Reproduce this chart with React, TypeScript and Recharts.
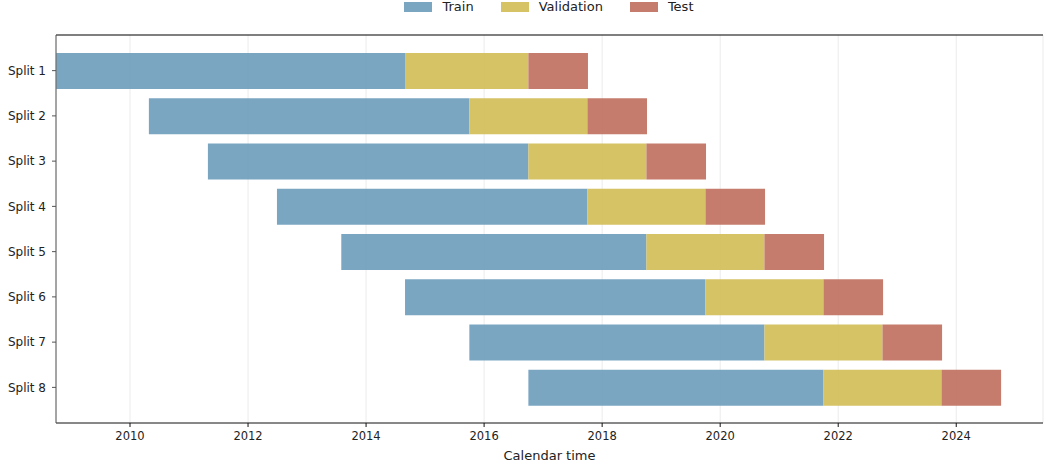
import { BarChart, Bar, XAxis, YAxis, CartesianGrid } from 'recharts';

const splits = ['Split 1', 'Split 2', 'Split 3', 'Split 4', 'Split 5', 'Split 6', 'Split 7', 'Split 8'];
// decimal calendar years
const trainStart = [2008.75, 2010.32, 2011.32, 2012.49, 2013.58, 2014.66, 2015.75, 2016.75];
const trainEnd = [2014.66, 2015.75, 2016.75, 2017.75, 2018.75, 2019.75, 2020.75, 2021.75];
const valEnd = [2016.75, 2017.75, 2018.75, 2019.75, 2020.75, 2021.75, 2022.75, 2023.75];
const testEnd = [2017.76, 2018.76, 2019.76, 2020.76, 2021.76, 2022.76, 2023.76, 2024.76];
const yearTicks = [2010, 2012, 2014, 2016, 2018, 2020, 2022, 2024];

const X_MIN = 2008.746;
const X_MAX = 2025.47;

const COLORS = { train: '#6b9cbb', val: '#d0bc55', test: '#bf6e5d' };
const FONT = 'DejaVu Sans, sans-serif';

// invisible offset bar + three stacked durations
const data = splits.map((name, i) => ({
  name,
  offset: trainStart[i],
  train: trainEnd[i] - trainStart[i],
  val: valEnd[i] - trainEnd[i],
  test: testEnd[i] - valEnd[i],
}));

const legendItems = [
  { label: 'Train', color: COLORS.train },
  { label: 'Validation', color: COLORS.val },
  { label: 'Test', color: COLORS.test },
];

function TopLegend() {
  return (
    <div
      style={{
        position: 'absolute',
        top: 0,
        left: 0,
        width: 1044,
        height: 13,
        display: 'flex',
        justifyContent: 'center',
        gap: 27,
        fontFamily: FONT,
        fontSize: 13,
        lineHeight: '13px',
        color: '#222',
        paddingLeft: 54,
        boxSizing: 'border-box',
      }}
    >
      {legendItems.map((it) => (
        <div key={it.label} style={{ display: 'flex', alignItems: 'center' }}>
          <span
            style={{
              display: 'inline-block',
              width: 28,
              height: 10,
              background: it.color,
              opacity: 0.9,
              marginRight: 10,
            }}
          />
          <span>{it.label}</span>
        </div>
      ))}
    </div>
  );
}

export default function App() {
  return (
    <div style={{ position: 'absolute', left: 0, top: 0, width: 1044, height: 465, background: '#fff' }}>
      <BarChart
        width={1044}
        height={465}
        data={data}
        layout="vertical"
        margin={{ top: 34, right: 1, left: 0, bottom: 0 }}
        barCategoryGap={0}
      >
        <CartesianGrid horizontal={false} stroke="#ebebeb" strokeWidth={1} />
        <XAxis
          type="number"
          domain={[X_MIN, X_MAX]}
          allowDataOverflow
          ticks={yearTicks}
          tickSize={4}
          height={42}
          stroke="#111"
          tick={{ fill: '#222', fontSize: 11.5, fontFamily: FONT }}
          tickMargin={5}
          label={{
            value: 'Calendar time',
            position: 'insideBottom',
            offset: 5,
            fill: '#222',
            fontSize: 13,
            fontFamily: FONT,
          }}
        />
        <XAxis
          xAxisId="top"
          orientation="top"
          type="number"
          domain={[X_MIN, X_MAX]}
          allowDataOverflow
          tick={false}
          tickLine={false}
          height={1}
          stroke="#000"
          strokeWidth={1.2}
        />
        <YAxis
          type="category"
          dataKey="name"
          width={56}
          padding={{ top: 13, bottom: 13 }}
          tickSize={4}
          tickMargin={6}
          stroke="#555"
          tick={{ fill: '#222', fontSize: 12, fontFamily: FONT }}
        />
        <Bar dataKey="offset" stackId="s" fill="transparent" barSize={36} isAnimationActive={false} legendType="none" />
        <Bar dataKey="train" stackId="s" fill={COLORS.train} fillOpacity={0.9} barSize={36} isAnimationActive={false} />
        <Bar dataKey="val" stackId="s" fill={COLORS.val} fillOpacity={0.9} barSize={36} isAnimationActive={false} />
        <Bar dataKey="test" stackId="s" fill={COLORS.test} fillOpacity={0.9} barSize={36} isAnimationActive={false} />
      </BarChart>
      <TopLegend />
    </div>
  );
}
